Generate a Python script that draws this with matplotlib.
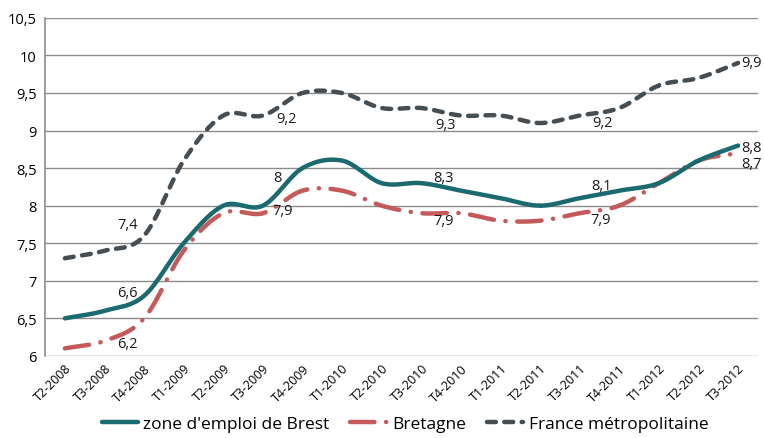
import numpy as np
import matplotlib.pyplot as plt

# quarters on the x axis
quarters = ['T2-2008', 'T3-2008', 'T4-2008', 'T1-2009', 'T2-2009', 'T3-2009',
            'T4-2009', 'T1-2010', 'T2-2010', 'T3-2010', 'T4-2010', 'T1-2011',
            'T2-2011', 'T3-2011', 'T4-2011', 'T1-2012', 'T2-2012', 'T3-2012']

# unemployment rates (%)
brest = [6.5, 6.6, 6.8, 7.5, 8.0, 8.0, 8.5, 8.6, 8.3, 8.3, 8.2, 8.1,
         8.0, 8.1, 8.2, 8.3, 8.6, 8.8]
bretagne = [6.1, 6.2, 6.5, 7.4, 7.9, 7.9, 8.2, 8.2, 8.0, 7.9, 7.9, 7.8,
            7.8, 7.9, 8.0, 8.3, 8.6, 8.7]
france = [7.3, 7.4, 7.6, 8.6, 9.2, 9.2, 9.5, 9.5, 9.3, 9.3, 9.2, 9.2,
          9.1, 9.2, 9.3, 9.6, 9.7, 9.9]

# the chart only labels one quarter out of four
label_idx = [1, 5, 9, 13, 17]


def smooth(x, y, n=20):
    # Catmull-Rom curve through the points, like a "smoothed line" in Excel
    x = np.asarray(x, float)
    y = np.asarray(y, float)
    px = np.concatenate([[2 * x[0] - x[1]], x, [2 * x[-1] - x[-2]]])
    py = np.concatenate([[2 * y[0] - y[1]], y, [2 * y[-1] - y[-2]]])
    xs, ys = [], []
    t = np.linspace(0, 1, n)
    for i in range(1, len(px) - 2):
        for p, out in ((px, xs), (py, ys)):
            p0, p1, p2, p3 = p[i - 1], p[i], p[i + 1], p[i + 2]
            out.extend(0.5 * ((2 * p1) + (-p0 + p2) * t
                              + (2 * p0 - 5 * p1 + 4 * p2 - p3) * t ** 2
                              + (-p0 + 3 * p1 - 3 * p2 + p3) * t ** 3))
    return np.array(xs), np.array(ys)


plt.rcParams['font.family'] = ['Open Sans', 'DejaVu Sans']

fig = plt.figure(figsize=(7.64, 4.39), dpi=100)
ax = fig.add_axes([0.059, 0.187, 0.933, 0.770])

x = np.arange(len(quarters))
teal = '#1b6a70'
red = '#c45a5a'
grey = '#464d53'

xs, ys = smooth(x, brest)
ax.plot(xs, ys, color=teal, lw=3.2, solid_capstyle='round',
        label="zone d'emploi de Brest", zorder=4)
xs, ys = smooth(x, bretagne)
ax.plot(xs, ys, color=red, lw=3.2, dash_capstyle='round',
        linestyle=(0, (5.5, 2.6, 0.05, 2.6)), label='Bretagne', zorder=3)
xs, ys = smooth(x, france)
ax.plot(xs, ys, color=grey, lw=3.2, dash_capstyle='round',
        linestyle=(0, (2.0, 1.9)), label='France métropolitaine', zorder=3)


def fmt(v):
    return ('%g' % v).replace('.', ',')


# data labels, offsets in pixels from the point
france_off = [(23, 26), (24, -3), (24, -16), (23, -7), (3, 0)]
brest_off = [(23, 18), (15, 28), (22, 6), (22, 13), (3, -2)]
bret_off = [(23, -3), (20, 3), (22, -7), (21, -6), (3, -10)]
for series, offs in ((france, france_off), (brest, brest_off), (bretagne, bret_off)):
    for i, (dx, dy) in zip(label_idx, offs):
        ha = 'left' if i == len(quarters) - 1 else 'center'
        ax.annotate(fmt(series[i]), (i, series[i]), xytext=(dx, dy),
                    textcoords='offset pixels', ha=ha, va='center',
                    fontsize=10.5, color='#1a1a1a', zorder=5)

ax.set_xlim(-0.5, len(quarters) - 0.5)
ax.set_ylim(6, 10.5)
ax.set_yticks(np.arange(6, 10.51, 0.5))
ax.set_yticklabels([fmt(v) for v in np.arange(6, 10.51, 0.5)], fontsize=10.5)
ax.set_xticks(x)
ax.set_xticklabels(quarters, rotation=45, ha='right', rotation_mode='anchor',
                   fontsize=9)
ax.tick_params(axis='both', length=0, pad=6)
ax.tick_params(axis='x', pad=4)

ax.grid(axis='y', color='#8c8c8c', lw=1.0)
ax.set_axisbelow(True)
for s in ['top', 'right', 'bottom']:
    ax.spines[s].set_visible(False)
ax.spines['left'].set_color('#8c8c8c')
ax.spines['left'].set_linewidth(1.2)

fig.legend(loc='lower center', bbox_to_anchor=(0.53, -0.022), ncol=3,
           frameon=False, fontsize=12.5, handlelength=2.1, columnspacing=1.2,
           handletextpad=0.3)

fig.savefig('out.png', dpi=100)
